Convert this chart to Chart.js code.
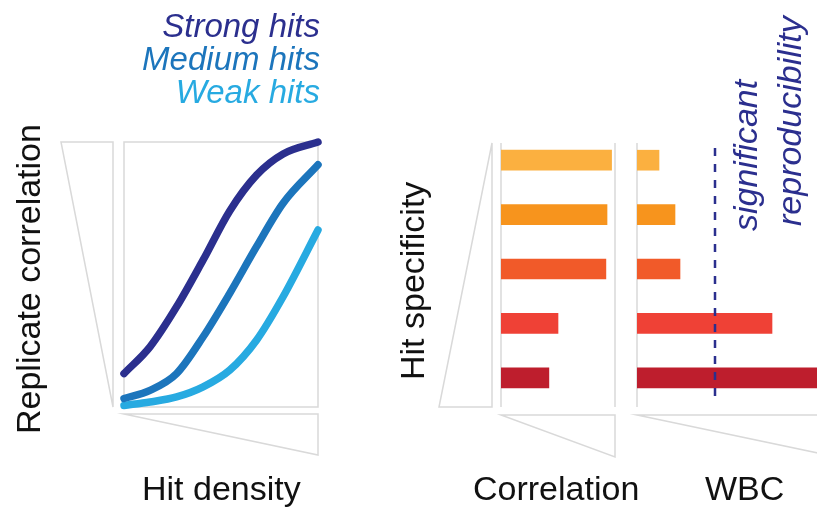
<!DOCTYPE html>
<html>
<head>
<meta charset="utf-8">
<script src="https://cdn.jsdelivr.net/npm/chart.js@4/dist/chart.umd.min.js"></script>
<style>
  html, body { margin: 0; padding: 0; background: #fff; overflow: hidden; }
  #wrap { position: relative; width: 817px; height: 508px; overflow: hidden; font-family: "Liberation Sans", Arial, sans-serif; }
  canvas { position: absolute; left: 0; top: 0; }
  .lbl { position: absolute; white-space: nowrap; font-size: 34px; line-height: 1; color: #111; }
  .leg { font-size: 33px; }
  .rot { transform-origin: 0 0; transform: rotate(-90deg); }
  .it { font-style: italic; }
</style>
</head>
<body>
<div id="wrap">
  <canvas id="curves" width="817" height="508"></canvas>
  <canvas id="corr" width="817" height="508"></canvas>
  <canvas id="wbc" width="860" height="508"></canvas>

  <div class="lbl leg it" style="right:497px; top:9px; color:#2b2f8e;">Strong hits</div>
  <div class="lbl leg it" style="right:497px; top:42px; color:#1c75bc;">Medium hits</div>
  <div class="lbl leg it" style="right:497px; top:75px; color:#27aae1;">Weak hits</div>

  <div class="lbl rot" style="left:11px; top:434px;">Replicate correlation</div>
  <div class="lbl rot" style="left:395px; top:380px;">Hit specificity</div>
  <div class="lbl rot it" style="left:728px; top:231px; color:#2b2f8e;">significant</div>
  <div class="lbl rot it" style="left:772px; top:226px; color:#2b2f8e;">reproducibility</div>

  <div class="lbl" style="left:142px; top:471px;">Hit density</div>
  <div class="lbl" style="left:473px; top:471px;">Correlation</div>
  <div class="lbl" style="left:705px; top:471px;">WBC</div>
</div>
<script>
// Curve data (x = hit density, y = replicate correlation, both 0..1)
const densityX = [0, 0.134, 0.271, 0.408, 0.545, 0.683, 0.82, 1];
const strongHits = [0.126, 0.227, 0.378, 0.555, 0.74, 0.875, 0.955, 1];
const mediumHits = [0.032, 0.063, 0.126, 0.265, 0.429, 0.605, 0.769, 0.914];
const weakHits = [0.006, 0.019, 0.038, 0.076, 0.139, 0.252, 0.416, 0.668];

// Bar data (top row = highest specificity)
const specificityRows = ['1', '2', '3', '4', '5'];
const correlationValues = [0.97, 0.93, 0.92, 0.5, 0.42];
const wbcValues = [0.11, 0.19, 0.215, 0.675, 1.0];
const wbcThreshold = 0.39;
const barColors = ['#fbb040', '#f7941d', '#f15a29', '#ef4136', '#be1e2d'];

const GRAY = '#d9d9d9';

function toPoints(ys) {
    return ys.map((y, i) => ({ x: densityX[i], y: y }));
}

function strokePoly(ctx, pts, close) {
    ctx.beginPath();
    ctx.moveTo(pts[0][0], pts[0][1]);
    for (let i = 1; i < pts.length; i++) ctx.lineTo(pts[i][0], pts[i][1]);
    if (close) ctx.closePath();
    ctx.stroke();
}

// frame + wedges around the curve plot
const curveFrame = {
    id: 'curveFrame',
    beforeDatasetsDraw(chart) {
        const { ctx, chartArea: a } = chart;
        ctx.save();
        ctx.strokeStyle = GRAY;
        ctx.lineWidth = 1.5;
        ctx.strokeRect(a.left, a.top, a.right - a.left, a.bottom - a.top);
        strokePoly(ctx, [[a.left - 63, a.top], [a.left - 11, a.top], [a.left - 11, a.bottom]], true);
        strokePoly(ctx, [[a.left, a.bottom + 7], [a.right, a.bottom + 7], [a.right, a.bottom + 48]], true);
        ctx.restore();
    }
};

// axis lines + wedges for the bar panels
const barFrame = {
    id: 'barFrame',
    beforeDatasetsDraw(chart, args, opts) {
        const { ctx, chartArea: a } = chart;
        ctx.save();
        ctx.strokeStyle = GRAY;
        ctx.lineWidth = 1.5;
        strokePoly(ctx, [[a.left, a.top + 10], [a.left, a.bottom + 2]]);
        if (opts.rightLine) strokePoly(ctx, [[a.right, a.top + 10], [a.right, a.bottom + 2]]);
        if (opts.sideWedge) {
            strokePoly(ctx, [[a.left - 9, a.top + 10], [a.left - 9, a.bottom + 2], [a.left - 62, a.bottom + 2]], true);
        }
        strokePoly(ctx, [[a.left, a.bottom + 10], [a.right, a.bottom + 10], [a.right, a.bottom + 52]], true);
        ctx.restore();
    },
    afterDatasetsDraw(chart, args, opts) {
        if (opts.threshold === undefined) return;
        const { ctx, chartArea: a } = chart;
        const x = chart.scales.x.getPixelForValue(opts.threshold);
        ctx.save();
        ctx.strokeStyle = '#2b2f8e';
        ctx.lineWidth = 2.5;
        ctx.setLineDash([8, 8]);
        strokePoly(ctx, [[x, a.top + 15], [x, a.bottom - 3]]);
        ctx.restore();
    }
};

new Chart(document.getElementById('curves'), {
    type: 'line',
    data: {
        datasets: [
            { label: 'Strong hits', data: toPoints(strongHits), borderColor: '#2b2f8e' },
            { label: 'Medium hits', data: toPoints(mediumHits), borderColor: '#1c75bc' },
            { label: 'Weak hits', data: toPoints(weakHits), borderColor: '#27aae1' }
        ]
    },
    options: {
        responsive: false,
        animation: false,
        layout: { padding: { left: 124, top: 142, right: 499, bottom: 101 } },
        elements: {
            line: { borderWidth: 7.5, borderCapStyle: 'round', borderJoinStyle: 'round', cubicInterpolationMode: 'monotone', fill: false },
            point: { radius: 0 }
        },
        datasets: { line: { clip: false } },
        scales: {
            x: { type: 'linear', min: 0, max: 1, display: false },
            y: { type: 'linear', min: 0, max: 1, display: false }
        },
        plugins: { legend: { display: false }, tooltip: { enabled: false } }
    },
    plugins: [curveFrame]
});

function barChart(id, values, pad, frameOpts) {
    return new Chart(document.getElementById(id), {
        type: 'bar',
        data: {
            labels: specificityRows,
            datasets: [{ data: values, backgroundColor: barColors, barThickness: 20, borderWidth: 0 }]
        },
        options: {
            indexAxis: 'y',
            responsive: false,
            animation: false,
            layout: { padding: pad },
            scales: {
                x: { type: 'linear', min: 0, max: 1, display: false },
                y: { display: false }
            },
            plugins: { legend: { display: false }, tooltip: { enabled: false }, barFrame: frameOpts }
        },
        plugins: [barFrame]
    });
}

barChart('corr', correlationValues, { left: 501, right: 202, top: 133, bottom: 103 }, { rightLine: true, sideWedge: true });
barChart('wbc', wbcValues, { left: 637, right: 23, top: 133, bottom: 103 }, { threshold: wbcThreshold });
</script>
</body>
</html>
